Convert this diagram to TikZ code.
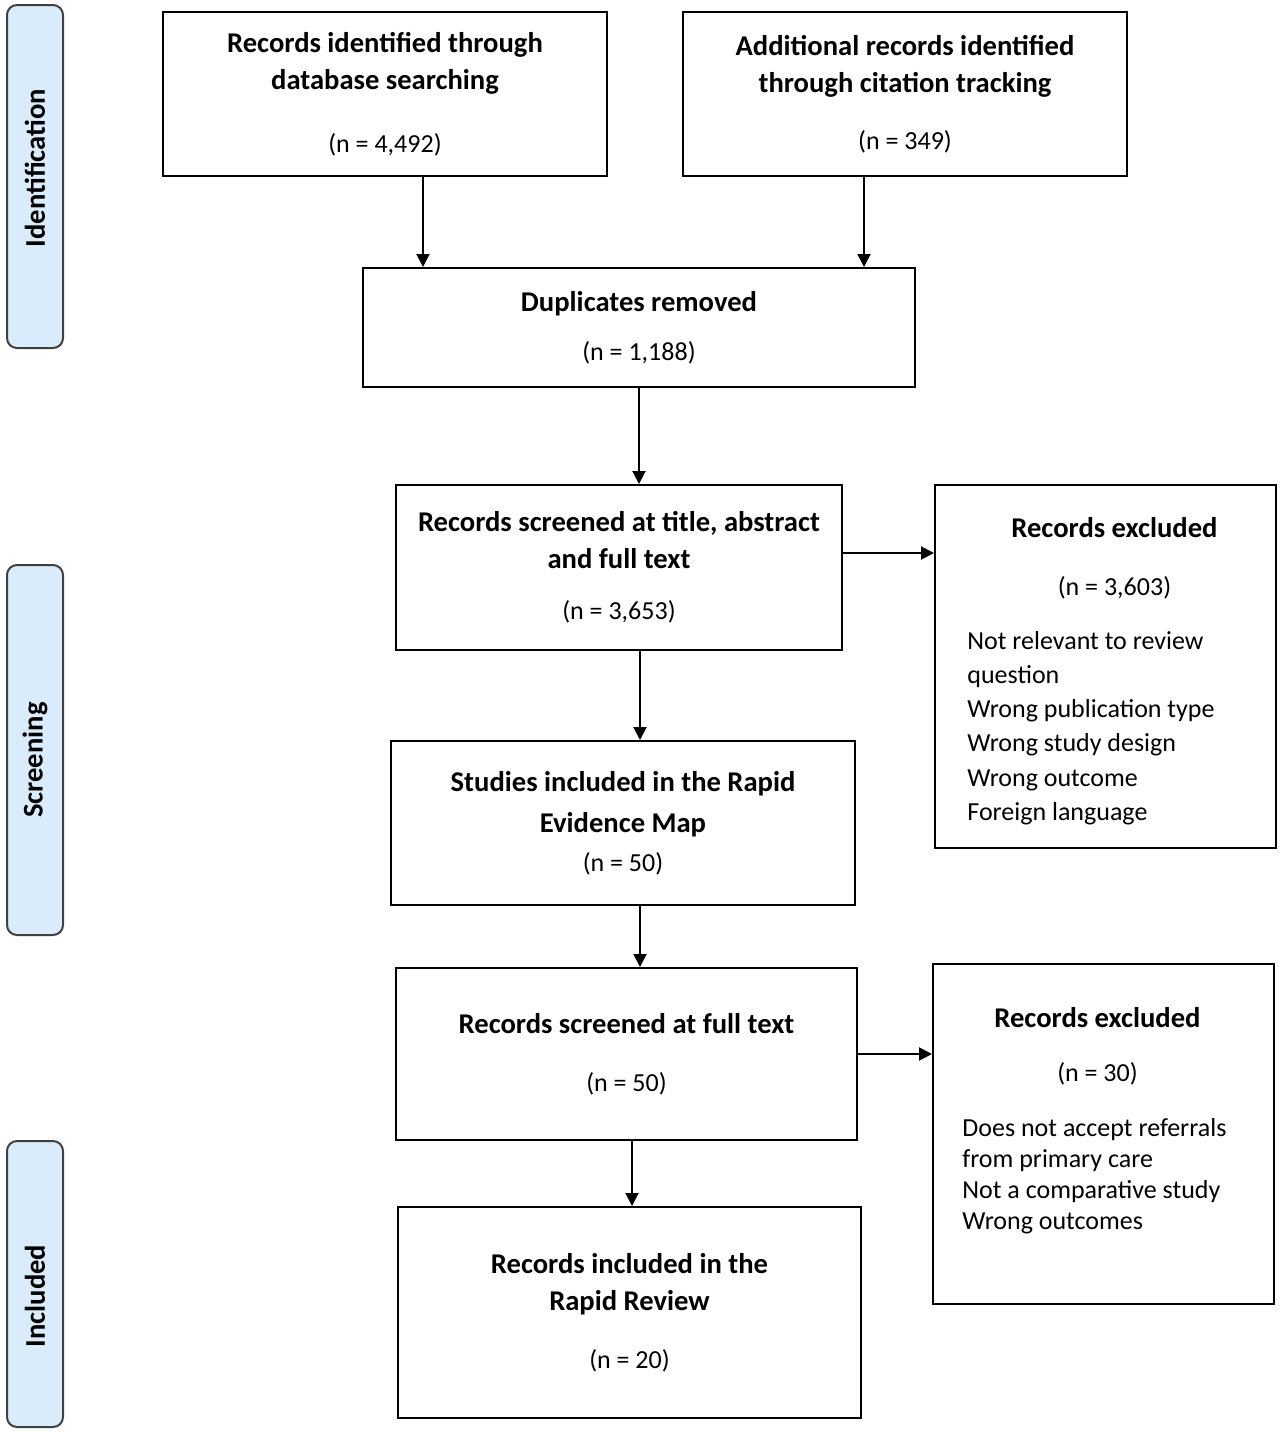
\documentclass[tikz,border=0pt]{standalone}
\usepackage{fontspec}
\setmainfont{Carlito}
\usetikzlibrary{arrows.meta}
\definecolor{phasefill}{HTML}{DAEBFC}
\definecolor{phaseline}{HTML}{404040}
\newcommand{\boxhead}[1]{{\fontsize{14.3}{18.5}\selectfont\bfseries #1}}
\begin{document}
\begin{tikzpicture}[x=0.5pt,y=-0.5pt,
    box/.style={draw,line width=1pt,align=center,inner sep=0pt,
      font=\fontsize{13}{18.5}\selectfont},
    phase/.style={draw=phaseline,fill=phasefill,line width=1pt,rounded corners=5pt,
      minimum width=28pt,inner sep=0pt},
    phaselabel/.style={rotate=90,font=\fontsize{14.3}{16}\selectfont\bfseries},
    arr/.style={line width=1pt,-{Triangle[length=6.5pt,width=6.5pt]}}]
      \useasboundingbox (0,0) rectangle (1280,1432);
      % phases
      \node[phase,minimum height=171.5pt] (p1) at (35,176.5) {};
      \node[phase,minimum height=185pt] (p2) at (35,750) {};
      \node[phase,minimum height=143pt] (p3) at (35,1284) {};
      \node[phaselabel] (p1t) at (35,168) {Identification};
      \node[phaselabel] (p2t) at (35,760) {Screening};
      \node[phaselabel] (p3t) at (35,1296) {Included};
      % boxes
      \node[box,minimum width=222pt,minimum height=82pt] (db) at (385,94)
        {\boxhead{Records identified through}\\\boxhead{database searching}\\[13pt](n = 4,492)};
      \node[box,minimum width=222pt,minimum height=82pt] (ct) at (905,94)
        {\boxhead{Additional records identified}\\\boxhead{through citation tracking}\\[10pt](n = 349)};
      \node[box,minimum width=276pt,minimum height=59.5pt] (dup) at (639,327.5)
        {\boxhead{Duplicates removed}\\[6pt](n = 1,188)};
      \node[box,minimum width=223pt,minimum height=82.5pt] (scr) at (619,567.5)
        {\boxhead{Records screened at title, abstract}\\\boxhead{and full text}\\[7pt](n = 3,653)};
      \node[box,minimum width=232pt,minimum height=82pt] (map) at (623,823)
        {\boxhead{Studies included in the Rapid}\\[2pt]\boxhead{Evidence Map}\\[1pt](n = 50)};
      \node[box,minimum width=230.5pt,minimum height=86pt] (ft) at (626.5,1054)
        {\boxhead{Records screened at full text}\\[10.5pt](n = 50)};
      \node[box,minimum width=231.5pt,minimum height=105.5pt] (inc) at (629.5,1312.5)
        {\boxhead{Records included in the}\\\boxhead{Rapid Review}\\[10.5pt](n = 20)};
      % exclusions
      \node[box,minimum width=170.5pt,minimum height=181.5pt] (ex1) at (1105.5,666.5) {};
      \node[box,minimum width=170.5pt,minimum height=170pt] (ex2) at (1103.5,1134) {};
      \node[align=center,font=\fontsize{13}{18.5}\selectfont] (ex1h) at (1114.5,558)
        {\boxhead{Records excluded}\\[10.5pt](n = 3,603)};
      \node[align=center,font=\fontsize{13}{18.5}\selectfont] (ex2h) at (1097.5,1046)
        {\boxhead{Records excluded}\\[8.5pt](n = 30)};
      \node[anchor=west,align=left,inner sep=0pt,font=\fontsize{13}{17.1}\selectfont] (ex1l) at (967,728)
        {Not relevant to review\\question\\Wrong publication type\\Wrong study design\\Wrong outcome\\Foreign language};
      \node[anchor=west,align=left,inner sep=0pt,font=\fontsize{13}{15.5}\selectfont] (ex2l) at (962,1176.5)
        {Does not accept referrals\\from primary care\\Not a comparative study\\Wrong outcomes};
      % arrows
      \draw[arr] ([xshift=19pt]db.south) -- ([xshift=19pt]db.south |- dup.north);
      \draw[arr] ([xshift=-20.5pt]ct.south) -- ([xshift=-20.5pt]ct.south |- dup.north);
      \draw[arr] (dup.south) -- (dup.south |- scr.north);
      \draw[arr] ([xshift=10.5pt]scr.south) -- ([xshift=10.5pt]scr.south |- map.north);
      \draw[arr] ([xshift=8.5pt]map.south) -- ([xshift=8.5pt]map.south |- ft.north);
      \draw[arr] ([xshift=2.75pt]ft.south) -- ([xshift=2.75pt]ft.south |- inc.north);
      \draw[arr] ([yshift=7.25pt]scr.east) -- ([yshift=7.25pt]scr.east -| ex1.west);
      \draw[arr] (ft.east) -- (ft.east -| ex2.west);
    \end{tikzpicture}
\end{document}
